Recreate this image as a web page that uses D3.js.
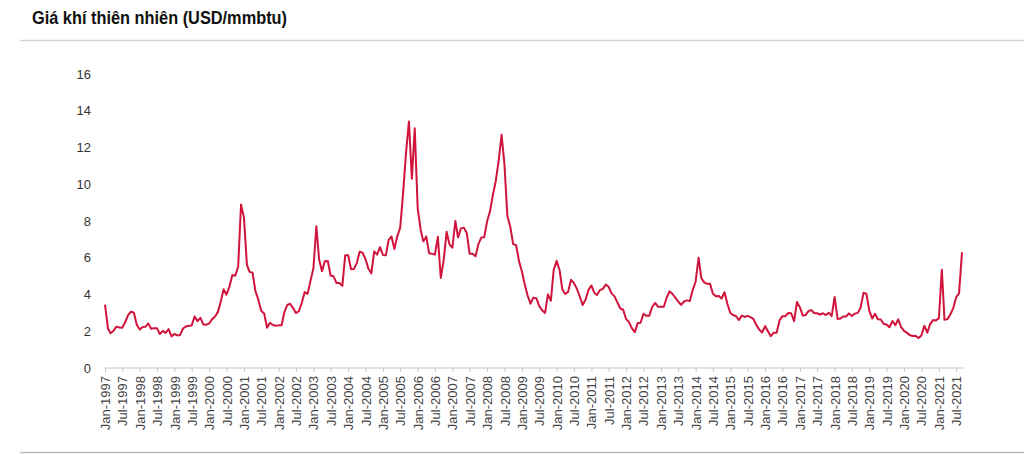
<!DOCTYPE html>
<html>
<head>
<meta charset="utf-8">
<script src="https://cdn.jsdelivr.net/npm/d3@7"></script>
<style>
  body { margin: 0; background: #fff; }
  svg { display: block; }
</style>
</head>
<body>
<div id="chart"></div>
<script>
// Monthly gas price (USD/mmbtu), Jan 1997 .. Sep 2021
const START_YEAR = 1997;
const prices1997_2001 = [
  3.45, 2.15, 1.89, 2.03, 2.25, 2.20, 2.19, 2.49, 2.88, 3.07, 3.01, 2.35,
  2.09, 2.23, 2.24, 2.43, 2.14, 2.17, 2.17, 1.85, 2.02, 1.91, 2.12, 1.72,
  1.85, 1.77, 1.79, 2.15, 2.26, 2.30, 2.31, 2.80, 2.55, 2.73, 2.37, 2.36,
  2.42, 2.66, 2.79, 3.04, 3.59, 4.29, 3.99, 4.43, 5.06, 5.02, 5.52, 8.90,
  8.17, 5.61, 5.23, 5.19, 4.19, 3.72, 3.11, 2.97, 2.19, 2.46, 2.34, 2.30
];
const prices2002_2006 = [
  2.32, 2.32, 3.03, 3.43, 3.50, 3.26, 2.99, 3.09, 3.55, 4.13, 4.04, 4.74,
  5.43, 7.71, 5.93, 5.26, 5.81, 5.82, 5.03, 4.99, 4.62, 4.63, 4.47, 6.13,
  6.14, 5.37, 5.39, 5.71, 6.33, 6.27, 5.93, 5.41, 5.15, 6.35, 6.17, 6.58,
  6.15, 6.14, 6.96, 7.16, 6.47, 7.18, 7.63, 9.53, 11.75, 13.42, 10.30, 13.05,
  8.69, 7.54, 6.89, 7.16, 6.25, 6.21, 6.17, 7.14, 4.90, 5.85, 7.41, 6.73
];
const prices2007_2011 = [
  6.55, 8.00, 7.11, 7.60, 7.64, 7.35, 6.22, 6.22, 6.08, 6.74, 7.10, 7.11,
  7.99, 8.54, 9.41, 10.18, 11.27, 12.69, 11.09, 8.26, 7.67, 6.74, 6.68, 5.82,
  5.24, 4.52, 3.96, 3.50, 3.83, 3.80, 3.38, 3.14, 2.99, 4.01, 3.66, 5.35,
  5.83, 5.32, 4.29, 4.03, 4.14, 4.80, 4.63, 4.32, 3.89, 3.43, 3.71, 4.25,
  4.49, 4.09, 3.97, 4.24, 4.31, 4.54, 4.42, 4.06, 3.90, 3.57, 3.24, 3.17
];
const prices2012_2016 = [
  2.67, 2.50, 2.17, 1.95, 2.43, 2.46, 2.95, 2.84, 2.85, 3.32, 3.54, 3.34,
  3.33, 3.33, 3.81, 4.17, 4.04, 3.83, 3.62, 3.43, 3.62, 3.68, 3.64, 4.24,
  4.71, 6.00, 4.90, 4.66, 4.58, 4.59, 4.05, 3.91, 3.92, 3.78, 4.12, 3.48,
  2.99, 2.87, 2.83, 2.61, 2.85, 2.78, 2.84, 2.77, 2.66, 2.34, 2.09, 1.93,
  2.28, 1.99, 1.73, 1.92, 1.92, 2.59, 2.82, 2.82, 2.99, 2.98, 2.55, 3.59
];
const prices2017_2021 = [
  3.30, 2.85, 2.88, 3.10, 3.15, 2.98, 2.98, 2.90, 2.98, 2.88, 3.01, 2.82,
  3.87, 2.67, 2.69, 2.80, 2.80, 2.97, 2.83, 2.96, 3.00, 3.28, 4.09, 4.04,
  3.11, 2.69, 2.95, 2.65, 2.64, 2.40, 2.37, 2.22, 2.56, 2.33, 2.65, 2.22,
  2.02, 1.91, 1.79, 1.74, 1.75, 1.63, 1.77, 2.30, 1.92, 2.39, 2.61, 2.59,
  2.71, 5.35, 2.62, 2.66, 2.91, 3.26, 3.84, 4.07, 6.30
];
const yTicks = [0, 2, 4, 6, 8, 10, 12, 14, 16];
const TITLE = "Giá khí thiên nhiên (USD/mmbtu)";

const prices = [...prices1997_2001, ...prices2002_2006, ...prices2007_2011,
  ...prices2012_2016, ...prices2017_2021];
const data = prices.map((v, i) => ({ date: new Date(Date.UTC(START_YEAR, i, 1)), value: v }));

const width = 1024, height = 454;
const LINE_COLOR = "#d0143c";

const svg = d3.select("#chart").append("svg")
  .attr("width", width)
  .attr("height", height);

// Title (narrow bold look: squeeze a regular bold face)
svg.append("text")
  .attr("x", 32)
  .attr("y", 24)
  .attr("font-family", "'Liberation Sans', Arial, sans-serif")
  .attr("font-weight", "bold")
  .attr("font-size", "18px")
  .attr("textLength", 255)
  .attr("lengthAdjust", "spacingAndGlyphs")
  .attr("fill", "#111")
  .text(TITLE);

svg.append("line")
  .attr("x1", 20).attr("x2", width)
  .attr("y1", 40.5).attr("y2", 40.5)
  .attr("stroke", "#d4d4d4").attr("stroke-width", 1.5);

svg.append("line")
  .attr("x1", 20).attr("x2", width)
  .attr("y1", 452.5).attr("y2", 452.5)
  .attr("stroke", "#bdbdbd").attr("stroke-width", 1.5);

// Scales
const x = d3.scaleUtc()
  .domain(d3.extent(data, (d) => d.date))
  .range([105, 962]);

const y = d3.scaleLinear()
  .domain([0, 16])
  .range([368, 74]);

// X axis
const xAxisG = svg.append("g")
  .attr("transform", `translate(0,${y(0)})`)
  .call(d3.axisBottom(x)
    .ticks(d3.utcMonth.every(6))
    .tickFormat(d3.utcFormat("%b-%Y"))
    .tickSize(4)
    .tickSizeOuter(0));

xAxisG.select(".domain").attr("stroke", "#c8c8c8").attr("d", `M${x.range()[0]},0H${x.range()[1] + 2}`);
xAxisG.selectAll(".tick line").attr("stroke", "#c8c8c8");
xAxisG.selectAll(".tick text")
  .attr("font-family", "'Liberation Sans', Arial, sans-serif")
  .attr("font-size", "13px")
  .attr("fill", "#444")
  .attr("text-anchor", "end")
  .attr("transform", "rotate(-90)")
  .attr("x", -8)
  .attr("y", 0)
  .attr("dy", "0.35em");

// Y axis (labels only)
const yAxisG = svg.append("g")
  .attr("transform", "translate(91,0)")
  .call(d3.axisLeft(y).tickValues(yTicks).tickSize(0).tickPadding(0));

yAxisG.select(".domain").remove();
yAxisG.selectAll(".tick text")
  .attr("font-family", "'Liberation Sans', Arial, sans-serif")
  .attr("font-size", "13px")
  .attr("fill", "#333");

// Line
const line = d3.line()
  .x((d) => x(d.date))
  .y((d) => y(d.value));

svg.append("path")
  .datum(data)
  .attr("d", line)
  .attr("fill", "none")
  .attr("stroke", LINE_COLOR)
  .attr("stroke-width", 2)
  .attr("stroke-linejoin", "round");
</script>
</body>
</html>
